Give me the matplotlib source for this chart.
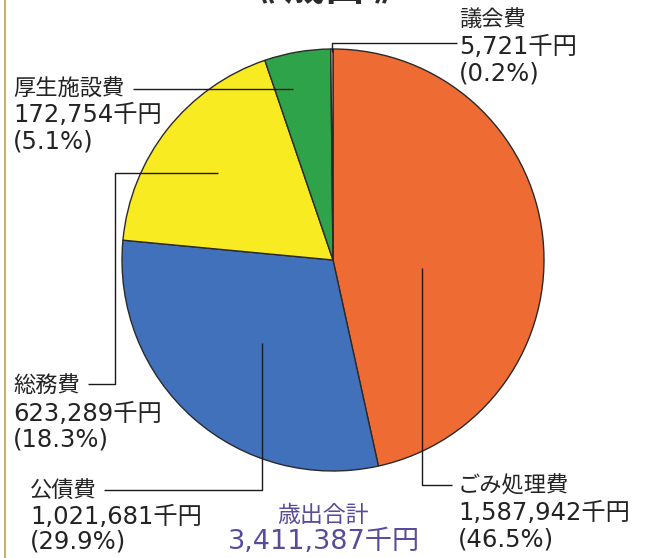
"""
plot.py
-------
Expenditure breakdown pie chart (歳出) with leader-line labels.
"""

import matplotlib
matplotlib.use("Agg")
import matplotlib.pyplot as plt


# ---------------------------------------------------------------------------
# Data
# ---------------------------------------------------------------------------

categories = ["ごみ処理費", "公債費", "総務費", "厚生施設費", "議会費"]
amounts = [1587942, 1021681, 623289, 172754, 5721]  # 千円
total_title = "歳出合計"
chart_title = "《 歳出 》"

# ---------------------------------------------------------------------------
# Styling / layout (pixel coordinates, y measured from the top)
# ---------------------------------------------------------------------------

W, H = 646, 558
COLORS = ["#EE6B33", "#4271BB", "#F9EB22", "#2FA34A", "#F3D8CC"]
CENTER = (333, 260)
RADIUS = 211
TEXT_COLOR = "#232323"
TOTAL_COLOR = "#5A4A9C"

# label block: x, y of name line, y of amount line, y of percent line
LABEL_POS = {
    "ごみ処理費": (458, 486, 513, 540),
    "公債費": (30, 491, 517, 542),
    "総務費": (13, 386, 414, 440),
    "厚生施設費": (13, 89, 115, 142),
    "議会費": (459, 20, 47, 73),
}

LEADERS = {
    "ごみ処理費": [(422, 268), (422, 485), (452, 485)],
    "公債費": [(104, 490), (262, 490), (262, 343)],
    "総務費": [(88, 384), (115, 384), (115, 173), (218, 173)],
    "厚生施設費": [(133, 89), (293, 89)],
    "議会費": [(332, 52), (332, 43), (457, 43)],
}

plt.rcParams["font.family"] = ["DejaVu Sans", "Noto Sans CJK JP"]


# ---------------------------------------------------------------------------
# Plot
# ---------------------------------------------------------------------------

total = sum(amounts)

fig = plt.figure(figsize=(W / 100, H / 100), dpi=100)
ax = fig.add_axes([0, 0, 1, 1])

# y axis is inverted below, so start at -90 and go counter-clockwise in data
# space -> clockwise from 12 o'clock on screen
ax.pie(amounts, colors=COLORS, startangle=-90, counterclock=True,
       center=CENTER, radius=RADIUS,
       wedgeprops=dict(edgecolor="#2a2a2a", linewidth=1.0))

ax.set_xlim(0, W)
ax.set_ylim(H, 0)
ax.set_aspect("equal")
ax.axis("off")

# leader lines
for name, pts in LEADERS.items():
    xs, ys = zip(*pts)
    ax.plot(xs, ys, color="#1a1a1a", linewidth=1.0, solid_capstyle="butt")

# labels
for name, amount in zip(categories, amounts):
    x, y_name, y_amt, y_pct = LABEL_POS[name]
    ax.text(x, y_name, name, fontsize=16, color=TEXT_COLOR,
            ha="left", va="center", family=["Noto Sans CJK JP"])
    ax.text(x, y_amt, f"{amount:,}千円", fontsize=17.5, color=TEXT_COLOR,
            ha="left", va="center")
    ax.text(x, y_pct, f"({amount / total * 100:.1f}%)", fontsize=17.5,
            color=TEXT_COLOR, ha="left", va="center")

# total
ax.text(323, 516, total_title, fontsize=16.5, color=TOTAL_COLOR,
        ha="center", va="center", family=["Noto Sans CJK JP"])
ax.text(324, 542, f"{total:,}千円", fontsize=19.5, color=TOTAL_COLOR,
        ha="center", va="center")

# title, mostly cut off by the top edge as in the scan
ax.text(325, -11, chart_title, fontsize=29, fontweight="bold", color="#2b2b2b",
        ha="center", va="center", family=["Noto Sans CJK JP"], clip_on=False)

# thin border line on the left edge
ax.plot([5, 5], [0, H], color="#C8B46A", linewidth=1.5)

fig.savefig("out.png", dpi=100)
